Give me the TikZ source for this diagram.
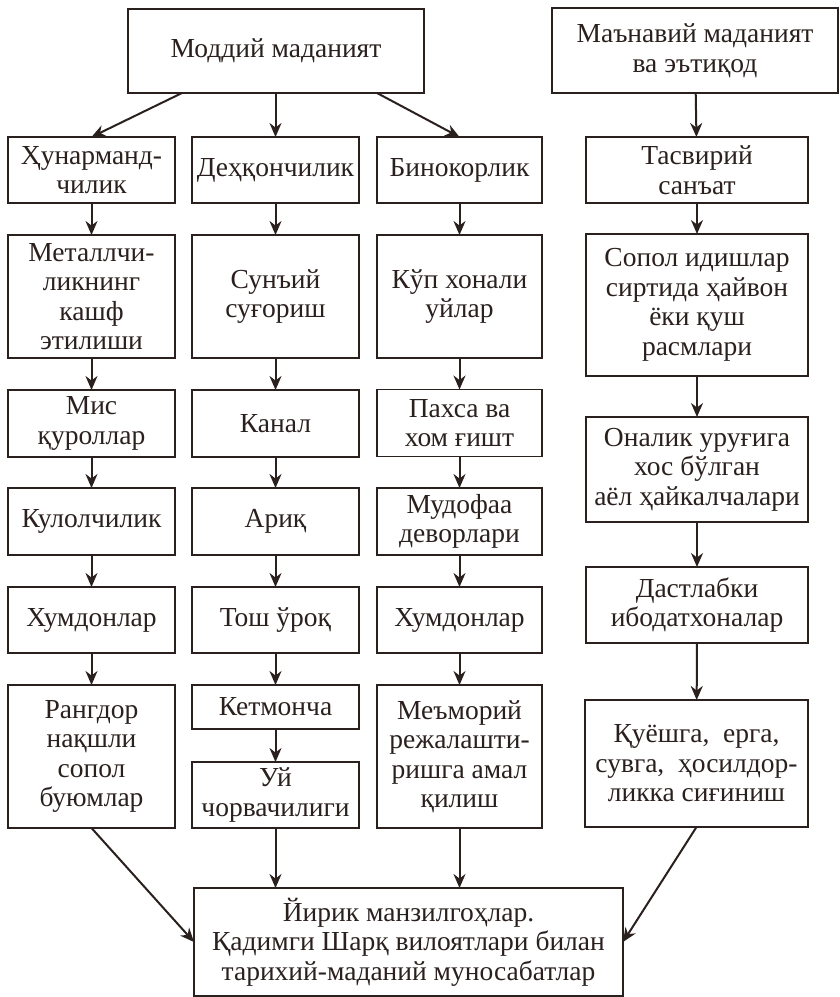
\documentclass[tikz,border=0pt]{standalone}
\usepackage{fontspec}
\setmainfont{Liberation Serif}
\usetikzlibrary{arrows.meta,calc}
\definecolor{ink}{HTML}{2A201D}
\begin{document}
\begin{tikzpicture}[x=1pt,y=-1pt,
  box/.style={draw=ink, text=ink, line width=1.3pt, inner sep=0pt, outer sep=0pt, align=center,
    font=\fontsize{27.5}{29.5}\selectfont},
  arr/.style={draw=ink, line width=2pt, -{Stealth[length=14pt,width=12pt]}}]
\useasboundingbox[fill=white] (0,0) rectangle (840,997);
% top
\node[box, minimum width=296pt, minimum height=84pt] (m) at (276,51) {Моддий маданият};
\node[box, minimum width=286pt, minimum height=85pt] (s) at (695,50.5) {Маънавий маданият\\ва эътиқод};
% row 2
\node[box, minimum width=167pt, minimum height=66pt] (c1a) at (91.5,170) {Ҳунарманд-\\чилик};
\node[box, minimum width=167pt, minimum height=66pt] (c2a) at (275.5,170) {Деҳқончилик};
\node[box, minimum width=165pt, minimum height=66pt] (c3a) at (459.5,170) {Бинокорлик};
\node[box, minimum width=222pt, minimum height=66pt] (c4a) at (697,170) {Тасвирий\\санъат};
% row 3
\node[box, minimum width=167pt, minimum height=123pt] (c1b) at (91.5,296.5) {Металлчи-\\ликнинг\\кашф\\этилиши};
\node[box, minimum width=167pt, minimum height=123pt] (c2b) at (275.5,296.5) {Сунъий\\суғориш};
\node[box, minimum width=165pt, minimum height=123pt] (c3b) at (459.5,296.5) {Кўп хонали\\уйлар};
\node[box, minimum width=222pt, minimum height=142pt] (c4b) at (697,305) {Сопол идишлар\\сиртида ҳайвон\\ёки қуш\\расмлари};
% row 4
\node[box, minimum width=167pt, minimum height=67pt] (c1c) at (91.5,423.5) {Мис\\қуроллар};
\node[box, minimum width=167pt, minimum height=67pt] (c2c) at (275.5,423.5) {Канал};
\node[box, minimum width=165pt, minimum height=67pt] (c3c) at (459.5,423) {Пахса ва\\хом ғишт};
\node[box, minimum width=222pt, minimum height=105pt] (c4c) at (697,469.5) {Оналик уруғига\\хос бўлган\\аёл ҳайкалчалари};
% row 5
\node[box, minimum width=167pt, minimum height=67pt] (c1d) at (91.5,521.5) {Кулолчилик};
\node[box, minimum width=167pt, minimum height=67pt] (c2d) at (275.5,521.5) {Ариқ};
\node[box, minimum width=165pt, minimum height=67pt] (c3d) at (459.5,521.5) {Мудофаа\\деворлари};
\node[box, minimum width=222pt, minimum height=76pt] (c4d) at (697,605) {Дастлабки\\ибодатхоналар};
% row 6
\node[box, minimum width=167pt, minimum height=66pt] (c1e) at (91.5,620) {Хумдонлар};
\node[box, minimum width=167pt, minimum height=66pt] (c2e) at (275.5,620) {Тош ўроқ};
\node[box, minimum width=165pt, minimum height=66pt] (c3e) at (459.5,620) {Хумдонлар};
% row 7
\node[box, minimum width=167pt, minimum height=143pt] (c1f) at (91.5,756.5) {Рангдор\\нақшли\\сопол\\буюмлар};
\node[box, minimum width=167pt, minimum height=44pt] (c2f) at (275.5,707) {Кетмонча};
\node[box, minimum width=167pt, minimum height=66pt] (c2g) at (275.5,795) {Уй\\чорвачилиги};
\node[box, minimum width=165pt, minimum height=143pt] (c3f) at (459.5,756.5) {Меъморий\\режалашти-\\ришга амал\\қилиш};
\node[box, minimum width=223pt, minimum height=127pt] (c4f) at (696.5,763.5) {Қуёшга, \ ерга,\\сувга, \ ҳосилдор-\\ликка сиғиниш};
% bottom
\node[box, minimum width=429pt, minimum height=108pt] (b) at (408.5,942) {Йирик манзилгоҳлар.\\Қадимги Шарқ вилоятлари билан\\тарихий-маданий муносабатлар};
% arrows from top
\draw[arr] ($(m.south west)+(54,0)$) -- (c1a.north);
\draw[arr] (c2a.north |- m.south) -- (c2a.north);
\draw[arr] ($(m.south east)+(-47,0)$) -- (c3a.north);
\draw[arr] (s) -- (c4a);
% column 1
\draw[arr] (c1a) -- (c1b);
\draw[arr] (c1b) -- (c1c);
\draw[arr] (c1c) -- (c1d);
\draw[arr] (c1d) -- (c1e);
\draw[arr] (c1e) -- (c1f);
\draw[arr] (c1f.south) -- (b.west);
% column 2
\draw[arr] (c2a) -- (c2b);
\draw[arr] (c2b) -- (c2c);
\draw[arr] (c2c) -- (c2d);
\draw[arr] (c2d) -- (c2e);
\draw[arr] (c2e) -- (c2f);
\draw[arr] (c2f) -- (c2g);
\draw[arr] (c2g.south) -- (c2g.south |- b.north);
% column 3
\draw[arr] (c3a) -- (c3b);
\draw[arr] (c3b) -- (c3c);
\draw[arr] (c3c) -- (c3d);
\draw[arr] (c3d) -- (c3e);
\draw[arr] (c3e) -- (c3f);
\draw[arr] (c3f.south) -- (c3f.south |- b.north);
% column 4
\draw[arr] (c4a) -- (c4b);
\draw[arr] (c4b) -- (c4c);
\draw[arr] (c4c) -- (c4d);
\draw[arr] (c4d) -- (c4f);
\draw[arr] (c4f.south) -- (b.east);
\end{tikzpicture}
\end{document}
